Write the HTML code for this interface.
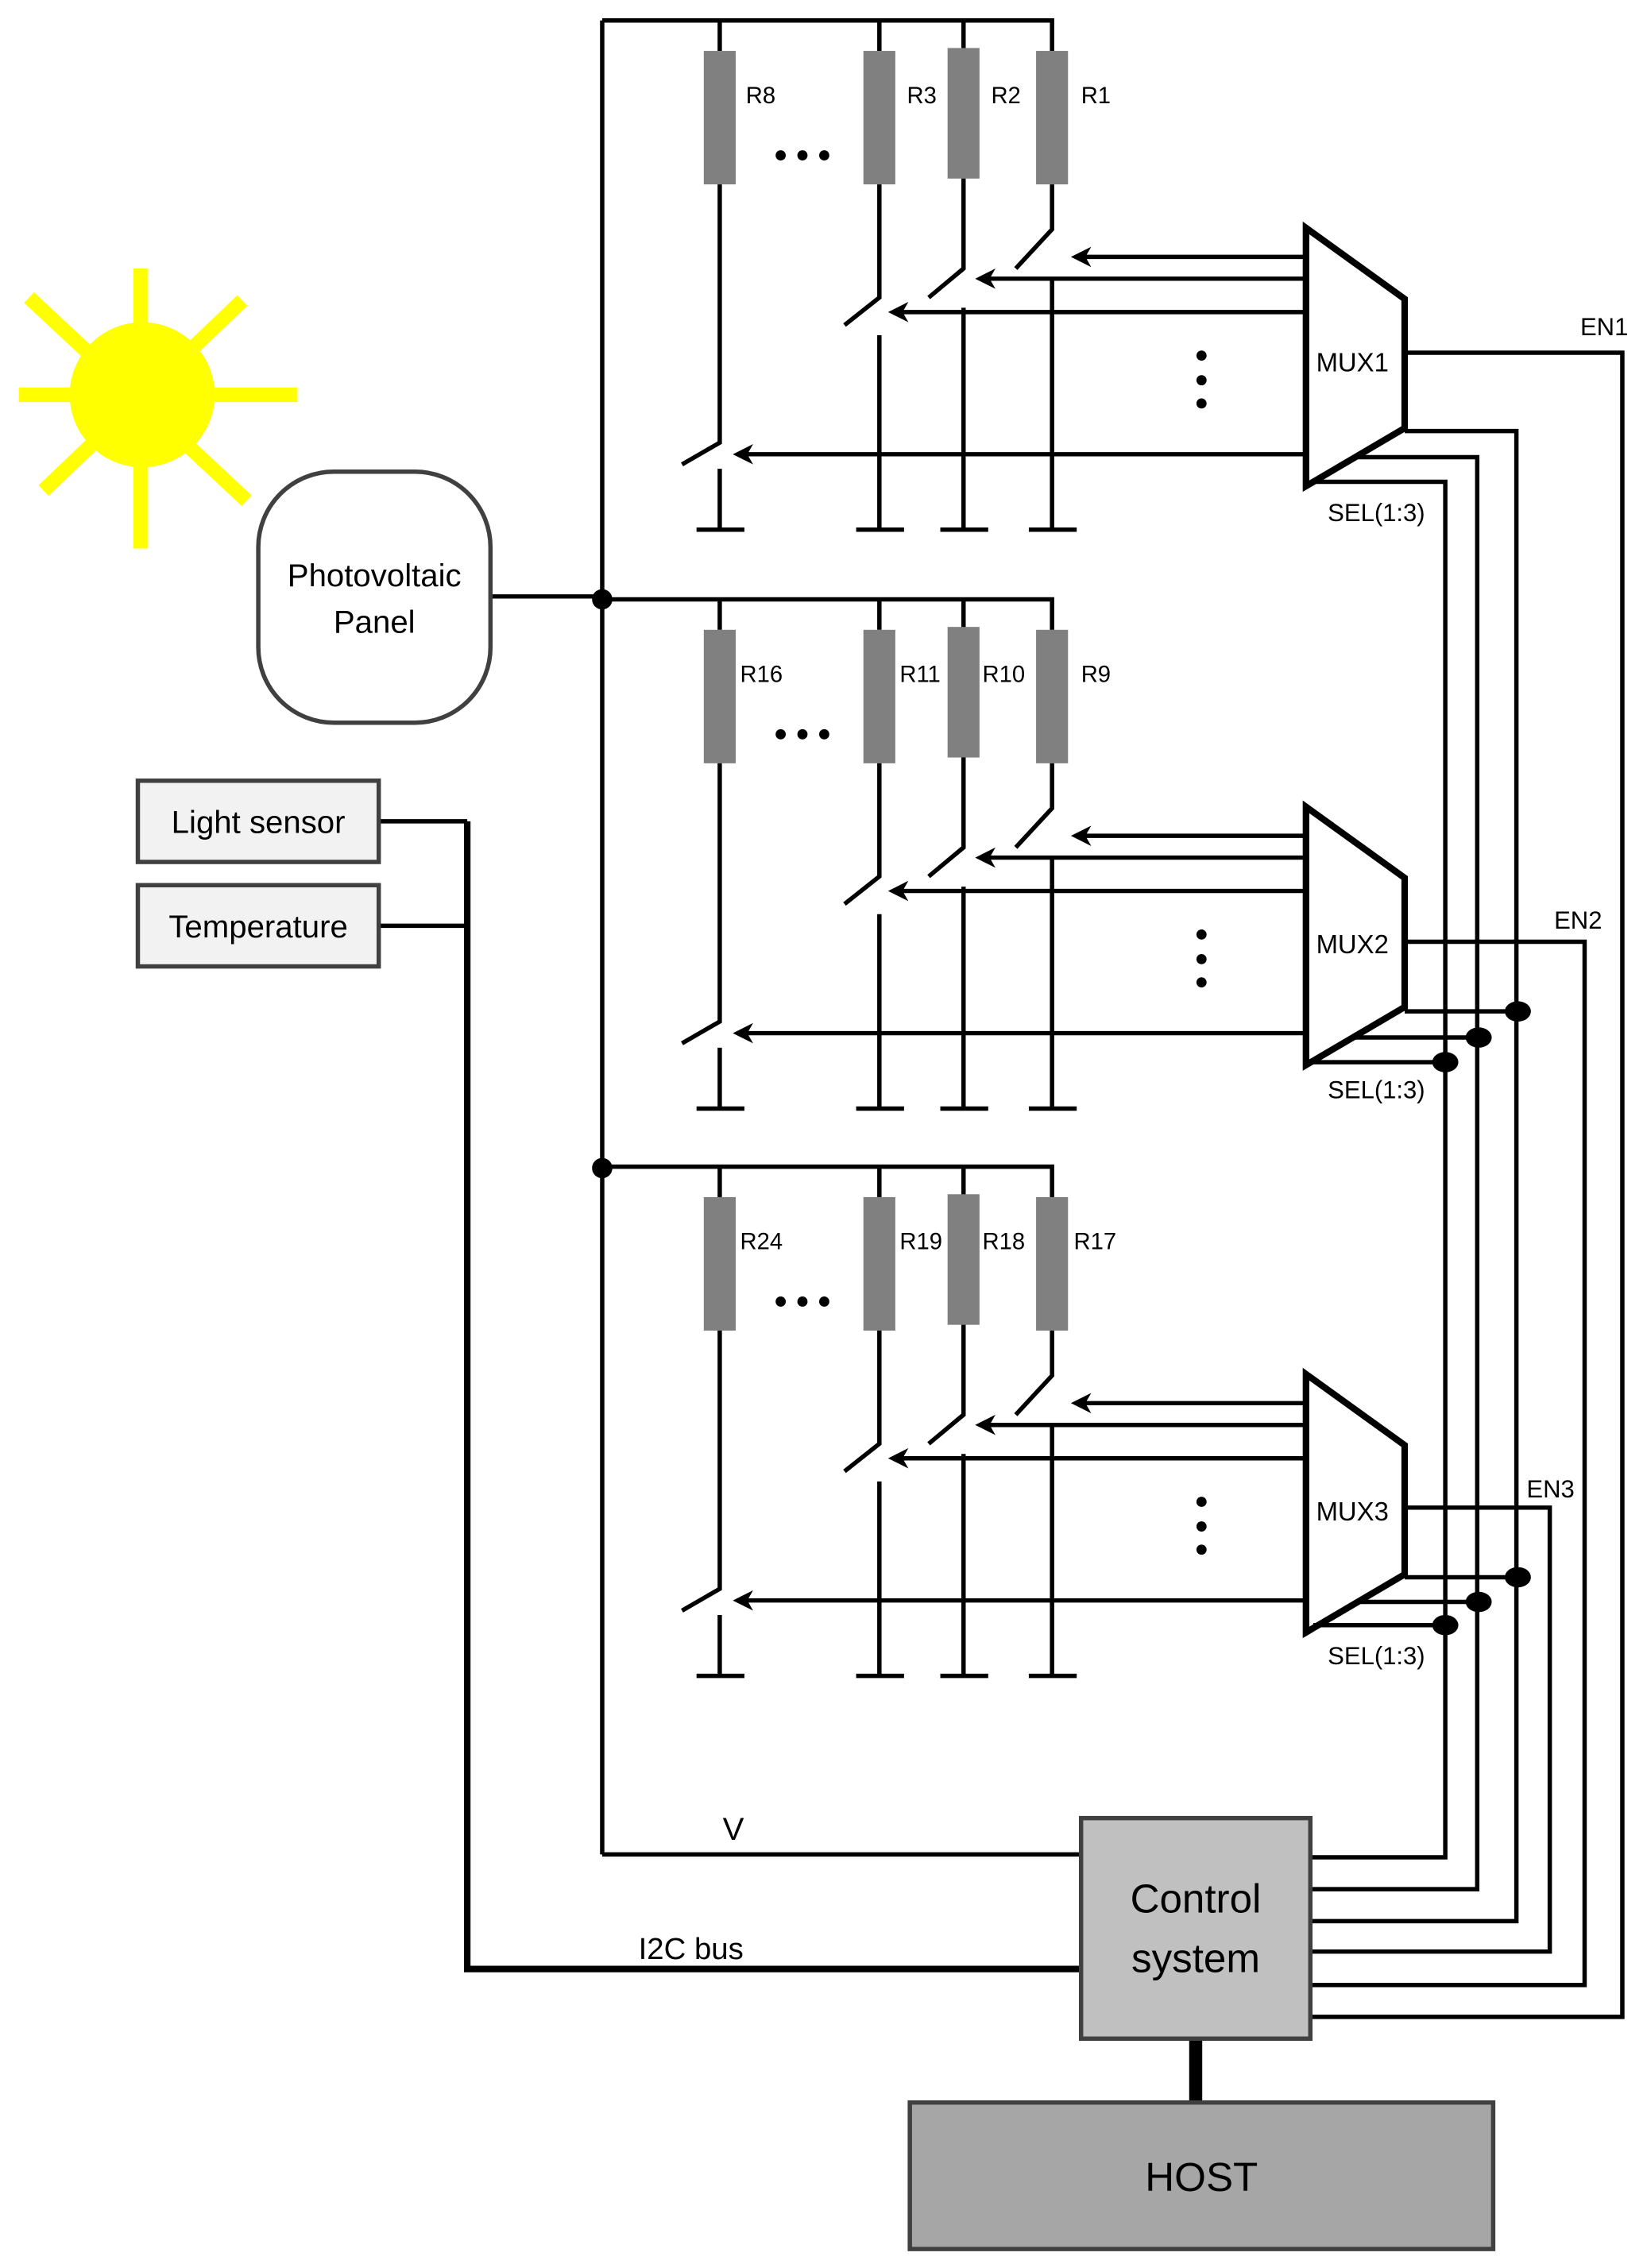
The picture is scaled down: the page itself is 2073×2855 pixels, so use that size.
<!DOCTYPE html>
<html><head><meta charset="utf-8"><style>html,body{margin:0;padding:0;background:#fff}svg{display:block}text{font-family:"Liberation Sans",sans-serif;fill:#000}</style></head>
<body>
<svg width="2073" height="2855" viewBox="0 0 1135 1563" xmlns="http://www.w3.org/2000/svg">
<defs>
<g id="mod" stroke="#000" stroke-width="3" fill="none">
  <polyline points="415,14 725,14 725,35"/>
  <line x1="496" y1="14" x2="496" y2="35"/><line x1="606" y1="14" x2="606" y2="35"/><line x1="664" y1="14" x2="664" y2="35"/>
  <g fill="#808080" stroke="none">
    <rect x="485" y="35" width="22" height="92"/><rect x="595" y="35" width="22" height="92"/>
    <rect x="653" y="33" width="22" height="90"/><rect x="714" y="35" width="22" height="92"/>
  </g>
  <g fill="#000" stroke="none"><circle cx="538" cy="107" r="3.5"/><circle cx="553" cy="107" r="3.5"/><circle cx="568" cy="107" r="3.5"/>
  <circle cx="828" cy="245" r="3.5"/><circle cx="828" cy="262" r="3.5"/><circle cx="828" cy="278" r="3.5"/></g>
  <polyline points="725,127 725,158 700,185"/><line x1="725" y1="192" x2="725" y2="365"/>
  <polyline points="664,123 664,185 640,205"/><line x1="664" y1="212" x2="664" y2="365"/>
  <polyline points="606,127 606,205 582,224"/><line x1="606" y1="231" x2="606" y2="365"/>
  <polyline points="496,127 496,305 470,320"/><line x1="496" y1="323" x2="496" y2="365"/>
  <line x1="480" y1="365" x2="513" y2="365"/><line x1="590" y1="365" x2="623" y2="365"/><line x1="648" y1="365" x2="681" y2="365"/><line x1="709" y1="365" x2="742" y2="365"/>
  <line x1="900" y1="177" x2="745" y2="177"/><line x1="900" y1="192" x2="680" y2="192"/><line x1="900" y1="215" x2="620" y2="215"/><line x1="900" y1="313" x2="512" y2="313"/>
  <g fill="#000" stroke="none">
    <polygon points="738,177 752,170 748,177 752,184"/><polygon points="672,192 686,185 682,192 686,199"/>
    <polygon points="612,215 626,208 622,215 626,222"/><polygon points="505,313 519,306 515,313 519,320"/>
  </g>
  <polygon points="900,157 968,206 968,295 900,335" stroke-width="4.5"/>
</g>
</defs>
<g stroke="#ffff00" stroke-width="10">
<line x1="97" y1="185" x2="97" y2="378"/><line x1="13" y1="272" x2="205" y2="272"/>
<line x1="20" y1="205" x2="170" y2="345"/>
<line x1="167" y1="207" x2="30" y2="338"/>
</g>
<circle cx="98" cy="272" r="50" fill="#ffff00"/>
<use href="#mod"/><use href="#mod" transform="translate(0,399)"/><use href="#mod" transform="translate(0,790)"/>
<g stroke="#000" stroke-width="3" fill="none">
  <line x1="415" y1="14" x2="415" y2="1278"/>
  <line x1="338" y1="411" x2="415" y2="411"/>
  <polyline points="415,1278 745,1278"/>
  <polyline points="968,243 1118,243 1118,1390 903,1390"/>
  <polyline points="968,649 1092,649 1092,1368 903,1368"/>
  <polyline points="968,1039 1068,1039 1068,1345 903,1345"/>
  <polyline points="968,297 1045,297 1045,1324 903,1324"/>
  <polyline points="934,315 1018,315 1018,1302 903,1302"/>
  <polyline points="905,332 996,332 996,1280 903,1280"/>
  <line x1="968" y1="697" x2="1045" y2="697"/><line x1="934" y1="715" x2="1018" y2="715"/><line x1="905" y1="732" x2="996" y2="732"/>
  <line x1="968" y1="1087" x2="1045" y2="1087"/><line x1="934" y1="1104" x2="1018" y2="1104"/><line x1="905" y1="1120" x2="996" y2="1120"/>
  <line x1="261" y1="566" x2="322" y2="566"/><line x1="261" y1="638" x2="322" y2="638"/>
  <polyline points="322,566 322,1357 745,1357" stroke-width="4.5"/>
  <line x1="824" y1="1405" x2="824" y2="1449" stroke-width="9"/>
</g>
<g fill="#000">
  <circle cx="415" cy="413" r="7"/><circle cx="415" cy="805" r="7"/>
  <ellipse cx="1046" cy="697" rx="9" ry="7"/><ellipse cx="1019" cy="715" rx="9" ry="7"/><ellipse cx="996" cy="732" rx="9" ry="7"/>
  <ellipse cx="1046" cy="1087" rx="9" ry="7"/><ellipse cx="1019" cy="1104" rx="9" ry="7"/><ellipse cx="996" cy="1120" rx="9" ry="7"/>
</g>
<rect x="178" y="325" width="160" height="173" rx="52" fill="#fff" stroke="#404040" stroke-width="3"/>
<text x="258" y="404" font-size="22" text-anchor="middle">Photovoltaic</text>
<text x="258" y="436" font-size="22" text-anchor="middle">Panel</text>
<rect x="95" y="538" width="166" height="56" fill="#f2f2f2" stroke="#404040" stroke-width="3"/>
<text x="178" y="574" font-size="22" text-anchor="middle">Light sensor</text>
<rect x="95" y="610" width="166" height="56" fill="#f2f2f2" stroke="#404040" stroke-width="3"/>
<text x="178" y="646" font-size="22" text-anchor="middle">Temperature</text>
<rect x="745" y="1253" width="158" height="152" fill="#c0c0c0" stroke="#404040" stroke-width="3"/>
<text x="824" y="1318" font-size="28" text-anchor="middle">Control</text>
<text x="824" y="1359" font-size="28" text-anchor="middle">system</text>
<rect x="627" y="1449" width="402" height="101" fill="#a6a6a6" stroke="#404040" stroke-width="3"/>
<text x="828" y="1510" font-size="28" text-anchor="middle">HOST</text>
<g font-size="16">
<text x="514" y="71">R8</text><text x="625" y="71">R3</text><text x="683" y="71">R2</text><text x="745" y="71">R1</text>
<text x="510" y="470">R16</text><text x="620" y="470">R11</text><text x="677" y="470">R10</text><text x="745" y="470">R9</text>
<text x="510" y="861">R24</text><text x="620" y="861">R19</text><text x="677" y="861">R18</text><text x="740" y="861">R17</text>
<text x="907" y="256" font-size="18">MUX1</text><text x="907" y="657" font-size="18">MUX2</text><text x="907" y="1048" font-size="18">MUX3</text>
<text x="915" y="359" font-size="17">SEL(1:3)</text><text x="915" y="757" font-size="17">SEL(1:3)</text><text x="915" y="1147" font-size="17">SEL(1:3)</text>
<text x="1089" y="231" font-size="17">EN1</text><text x="1071" y="640" font-size="17">EN2</text><text x="1052" y="1032" font-size="17">EN3</text>
</g>
<text x="498" y="1268" font-size="22">V</text>
<text x="440" y="1350" font-size="21">I2C bus</text>
</svg>
</body></html>
